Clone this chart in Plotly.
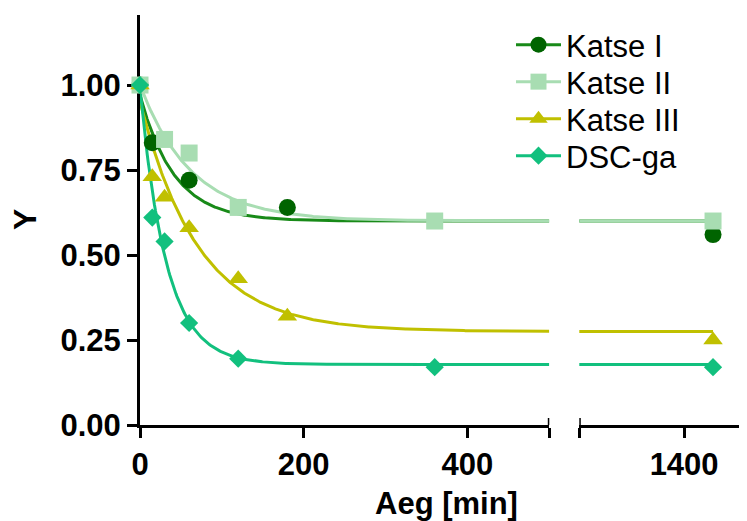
import numpy as np
import plotly.graph_objects as go

# ---- data ----
series_names = ["Katse I", "Katse II", "Katse III", "DSC-ga"]

katse1_x = [0, 15, 60, 180, 1440]
katse1_y = [1.00, 0.83, 0.72, 0.64, 0.56]

katse2_x = [0, 30, 60, 120, 360, 1440]
katse2_y = [1.00, 0.84, 0.80, 0.64, 0.60, 0.60]

katse3_x = [0, 15, 30, 60, 120, 180, 1440]
katse3_y = [1.00, 0.73, 0.67, 0.58, 0.43, 0.32, 0.25]

dsc_x = [0, 15, 30, 60, 120, 360, 1440]
dsc_y = [1.00, 0.61, 0.54, 0.30, 0.195, 0.17, 0.17]

# one-phase decay fit parameters
fit_y0 = [0.97, 1.00, 0.95, 0.99]
fit_plateau = [0.60, 0.60, 0.275, 0.178]
fit_k = [0.024, 0.016, 0.014, 0.031]

left_ticks = [0, 200, 400]
right_ticks = [1400]
y_ticks = [0.00, 0.25, 0.50, 0.75, 1.00]

# ---- styles ----
marker_colors = ["#006400", "#a8ddb2", "#c0c000", "#12c07e"]
line_colors = ["#188a18", "#a8ddb2", "#c0c000", "#12c07e"]
symbols = ["circle", "square", "triangle-up", "diamond"]
sizes = [17, 17, 17, 14]

xs = [katse1_x, katse2_x, katse3_x, dsc_x]
ys = [katse1_y, katse2_y, katse3_y, dsc_y]

LEFT_RANGE = [0, 500]
RIGHT_RANGE = [1255, 1487]

# page body has an 8px margin; lay out in page pixels
OFF = 8
PL, PT, PR, PB = 140, 15, 747, 425   # plot area in page pixels
W, H = PR - OFF, 521 - OFF
ML, MT = PL - OFF, PT - OFF
MR = 0
MB = H - MT - (PB - PT)
pw, ph = PR - PL, PB - PT

def px(x):
    return (x - PL) / pw

def py(y):
    return (PB - y) / ph

FONT = "Liberation Sans, Arial, sans-serif"

fig = go.Figure()

def decay(t, y0, p, k):
    return p + (y0 - p) * np.exp(-k * t)

for i in range(4):
    tl = np.linspace(0, LEFT_RANGE[1], 400)
    tr = np.linspace(RIGHT_RANGE[0] - 3, 1440, 50)
    fig.add_trace(go.Scatter(x=tl, y=decay(tl, fit_y0[i], fit_plateau[i], fit_k[i]),
                             mode="lines", line=dict(color=line_colors[i], width=3),
                             showlegend=False, hoverinfo="skip", xaxis="x", yaxis="y",
                             cliponaxis=False))
    fig.add_trace(go.Scatter(x=tr, y=decay(tr, fit_y0[i], fit_plateau[i], fit_k[i]),
                             mode="lines", line=dict(color=line_colors[i], width=3),
                             showlegend=False, hoverinfo="skip", xaxis="x2", yaxis="y",
                             cliponaxis=False))

legend_ids = ["legend", "legend2", "legend3", "legend4"]
for i in range(4):
    xl = [x for x in xs[i] if x <= LEFT_RANGE[1]]
    yl = [y for x, y in zip(xs[i], ys[i]) if x <= LEFT_RANGE[1]]
    xr = [x for x in xs[i] if x >= RIGHT_RANGE[0]]
    yr = [y for x, y in zip(xs[i], ys[i]) if x >= RIGHT_RANGE[0]]
    mk = dict(color=marker_colors[i], symbol=symbols[i], size=sizes[i], line=dict(width=0))
    fig.add_trace(go.Scatter(x=xl, y=yl, mode="markers", marker=mk, showlegend=False,
                             xaxis="x", yaxis="y", cliponaxis=False, name=series_names[i]))
    fig.add_trace(go.Scatter(x=xr, y=yr, mode="markers", marker=mk, showlegend=False,
                             xaxis="x2", yaxis="y", cliponaxis=False, name=series_names[i]))
    # legend entry
    fig.add_trace(go.Scatter(x=[None], y=[None], mode="lines+markers", name=series_names[i],
                             marker=mk, line=dict(color=line_colors[i], width=3),
                             xaxis="x", yaxis="y", legend=legend_ids[i]))

tickfont = dict(family=FONT, size=31, color="black", weight="bold")
axis_common = dict(showline=True, linecolor="black", linewidth=3, ticks="outside",
                   ticklen=10, tickwidth=3, tickcolor="black", showgrid=False,
                   zeroline=False, tickfont=tickfont, layer="below traces")

legend_centers = [45, 82, 119, 156]
legend_layout = {}
for lid, cy in zip(legend_ids, legend_centers):
    legend_layout[lid] = dict(x=px(511), y=py(cy), xanchor="left", yanchor="middle",
                              font=dict(family=FONT, size=31, color="black"),
                              bgcolor="rgba(0,0,0,0)", itemwidth=45, borderwidth=0)

fig.update_layout(
    width=W, height=H,
    margin=dict(l=ML, r=MR, t=MT, b=MB, pad=0),
    plot_bgcolor="white", paper_bgcolor="white",
    xaxis=dict(domain=[0, px(549.3)], range=LEFT_RANGE,
               tickvals=left_ticks + [LEFT_RANGE[1]],
               ticktext=[str(t) for t in left_ticks] + [""],
               anchor="y", **axis_common),
    xaxis2=dict(domain=[px(579.3), 1], range=RIGHT_RANGE,
                tickvals=[RIGHT_RANGE[0]] + right_ticks,
                ticktext=[""] + [str(t) for t in right_ticks],
                anchor="y", **axis_common),
    yaxis=dict(domain=[0, 1], range=[0, 1.206], tickvals=y_ticks,
               ticktext=["%.2f" % v for v in y_ticks], **axis_common),
    showlegend=True,
    **legend_layout,
)

# break caps extending above the x-axis line at segment ends
for xr, xv in (("x", LEFT_RANGE[1]), ("x2", RIGHT_RANGE[0])):
    fig.add_shape(type="line", xref=xr, yref="paper", x0=xv, x1=xv,
                  y0=0, y1=7 / ph, line=dict(color="black", width=3))

fig.add_annotation(text="Aeg [min]", xref="paper", yref="paper",
                   x=px(446), y=py(503), xanchor="center", yanchor="middle", showarrow=False,
                   font=dict(family=FONT, size=31, color="black", weight="bold"))
fig.add_annotation(text="Y", xref="paper", yref="paper", textangle=-90,
                   x=px(25), y=py(220), xanchor="center", yanchor="middle", showarrow=False,
                   font=dict(family=FONT, size=32, color="black", weight="bold"))

fig.write_html("out.html")
